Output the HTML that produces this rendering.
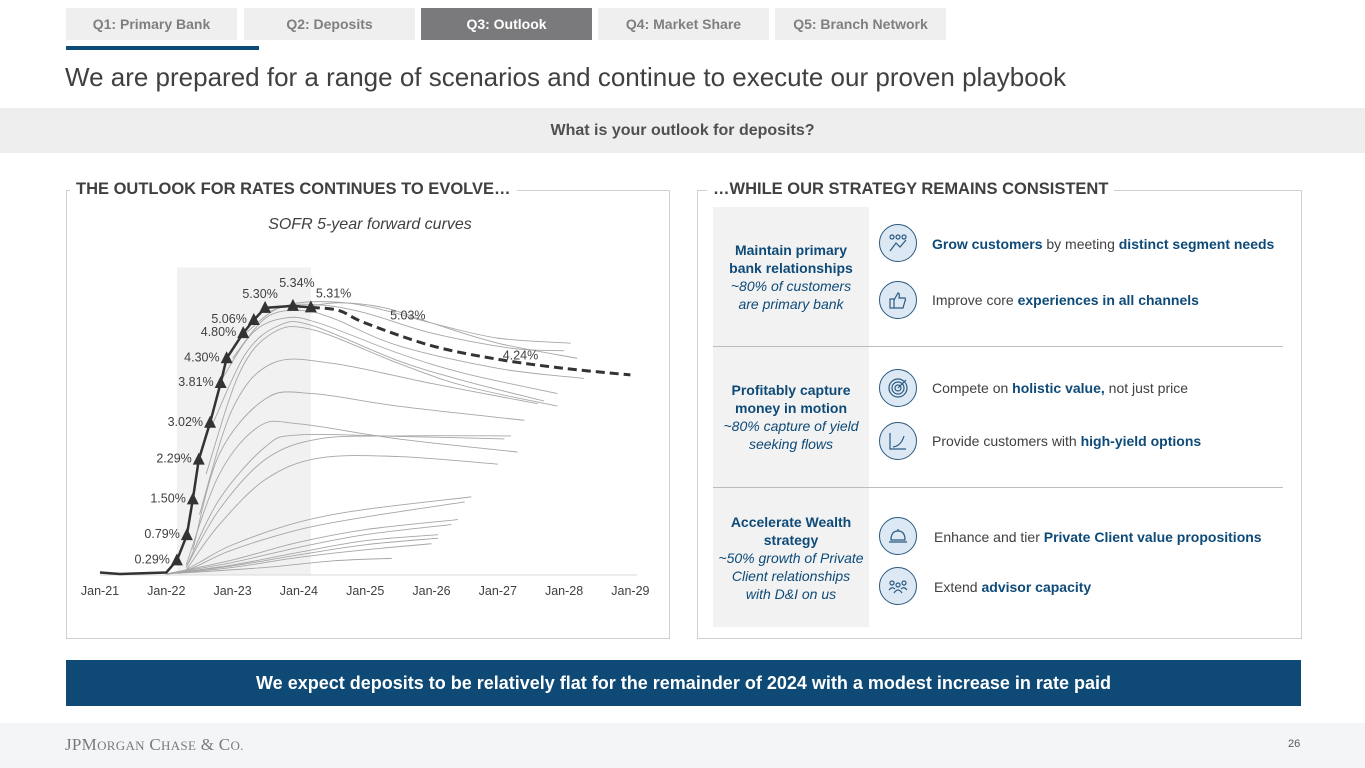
<!DOCTYPE html>
<html><head><meta charset="utf-8">
<style>
*{margin:0;padding:0;box-sizing:border-box}
body{width:1365px;height:768px;position:relative;background:#fff;font-family:"Liberation Sans",Arial,sans-serif;overflow:hidden;color:#404040}
.abs{position:absolute}
.tab{position:absolute;top:8px;height:32px;width:171px;background:#efefef;color:#7f7f7f;font-size:14px;font-weight:bold;text-align:center;line-height:32px}
.tab.on{background:#7a7a7c;color:#fff}
.b{color:#0e4a78;font-weight:bold}
.item{position:absolute;left:932px;font-size:14px;color:#404040;white-space:nowrap}
.icon{position:absolute;left:879px;width:38px;height:38px;border-radius:50%;background:#dce8f3;border:1.5px solid #2b5a80}
.icon svg{position:absolute;left:8px;top:8px}
.lh{position:absolute;left:713px;width:156px;text-align:center;font-size:14px;line-height:18px;white-space:nowrap}
.lh b{color:#0e4a78;display:block}
.lh i{color:#0e4a78;display:block}
</style></head><body>
<div class="tab" style="left:66px">Q1: Primary Bank</div>
<div class="tab" style="left:244px">Q2: Deposits</div>
<div class="tab on" style="left:421px">Q3: Outlook</div>
<div class="tab" style="left:598px">Q4: Market Share</div>
<div class="tab" style="left:775px">Q5: Branch Network</div>
<div class="abs" style="left:66px;top:46px;width:193px;height:4px;background:#0e4a78"></div>
<div class="abs" style="left:65px;top:62px;font-size:26px;color:#404040">We are prepared for a range of scenarios and continue to execute our proven playbook</div>
<div class="abs" style="left:0;top:108px;width:1365px;height:45px;background:#eeeeee;text-align:center;line-height:45px;font-size:16px;font-weight:bold;color:#505050">What is your outlook for deposits?</div>

<div class="abs" style="left:66px;top:190px;width:604px;height:449px;border:1px solid #d0d0d0"></div>
<div class="abs" style="left:70px;top:180px;padding:0 6px;background:#fff;font-size:16.5px;font-weight:bold;color:#404040">THE OUTLOOK FOR RATES CONTINUES TO EVOLVE…</div>
<div class="abs" style="left:697px;top:190px;width:605px;height:449px;border:1px solid #d0d0d0"></div>
<div class="abs" style="left:707px;top:180px;padding:0 6px;background:#fff;font-size:16.5px;font-weight:bold;color:#404040">…WHILE OUR STRATEGY REMAINS CONSISTENT</div>

<svg id="chart" class="abs" style="left:0;top:0" width="700" height="660"></svg>

<div class="abs" style="left:713px;top:207px;width:156px;height:420px;background:#f2f2f2"></div>
<div class="abs" style="left:713px;top:346px;width:570px;height:1px;background:#bdbdbd"></div>
<div class="abs" style="left:713px;top:487px;width:570px;height:1px;background:#bdbdbd"></div>
<div class="lh" style="top:241px"><b>Maintain primary<br>bank relationships</b><i>~80% of customers<br>are primary bank</i></div>
<div class="lh" style="top:381px"><b>Profitably capture<br>money in motion</b><i>~80% capture of yield<br>seeking flows</i></div>
<div class="lh" style="top:513px"><b>Accelerate Wealth<br>strategy</b><i>~50% growth of Private<br>Client relationships<br>with D&amp;I on us</i></div>

<div class="icon" style="top:224px"><svg width="20" height="20"><g fill="none" stroke="#2b5a80" stroke-width="1.2"><circle cx="4" cy="4" r="2"/><circle cx="10" cy="4" r="2"/><circle cx="16" cy="4" r="2"/><path d="M2 18L8 10L12 14L18 7"/></g></svg></div>
<div class="icon" style="top:281px"><svg width="20" height="20"><g fill="none" stroke="#2b5a80" stroke-width="1.2"><rect x="2" y="9" width="4" height="9"/><path d="M6 10L10 3Q12 3 11 8H17Q18 9 17 11L15 18H6"/></g></svg></div>
<div class="icon" style="top:369px"><svg width="20" height="20"><g fill="none" stroke="#2b5a80" stroke-width="1.2"><circle cx="10" cy="10" r="9"/><circle cx="10" cy="10" r="6"/><circle cx="10" cy="10" r="3"/><path d="M10 10L18 2"/></g></svg></div>
<div class="icon" style="top:422px"><svg width="20" height="20"><g fill="none" stroke="#2b5a80" stroke-width="1.2"><path d="M2 2V18H18"/><path d="M5 16Q13 15 16 5"/></g></svg></div>
<div class="icon" style="top:517px"><svg width="20" height="20"><g fill="none" stroke="#2b5a80" stroke-width="1.2"><path d="M3 14Q3 5 10 5Q17 5 17 14Z"/><path d="M1 16H19M10 3V5"/></g></svg></div>
<div class="icon" style="top:567px"><svg width="20" height="20"><g fill="none" stroke="#2b5a80" stroke-width="1.2"><circle cx="4" cy="7" r="2"/><circle cx="10" cy="9" r="2"/><circle cx="16" cy="7" r="2"/><path d="M1 14Q4 10 7 13M6 17Q10 11 14 17M13 13Q16 10 19 14"/></g></svg></div>
<div class="item" style="top:236px"><span class="b">Grow customers</span> by meeting <span class="b">distinct segment needs</span></div>
<div class="item" style="top:292px">Improve core <span class="b">experiences in all channels</span></div>
<div class="item" style="top:380px">Compete on <span class="b">holistic value,</span> not just price</div>
<div class="item" style="top:433px">Provide customers with <span class="b">high-yield options</span></div>
<div class="item" style="top:529px;left:934px">Enhance and tier <span class="b">Private Client value propositions</span></div>
<div class="item" style="top:579px;left:934px">Extend <span class="b">advisor capacity</span></div>

<div class="abs" style="left:66px;top:660px;width:1235px;height:46px;background:#0e4a75;color:#fff;font-size:18px;font-weight:bold;text-align:center;line-height:46px">We expect deposits to be relatively flat for the remainder of 2024 with a modest increase in rate paid</div>
<div class="abs" style="left:0;top:723px;width:1365px;height:45px;background:#f4f5f7"></div>
<div class="abs" style="left:65px;top:735px;font-family:'Liberation Serif',serif;font-size:17px;color:#7a7a7a;letter-spacing:0.3px">JPM<span style="font-size:13px">ORGAN</span> C<span style="font-size:13px">HASE</span> &amp; C<span style="font-size:13px">O.</span></div>
<div class="abs" style="left:1288px;top:738px;font-size:11px;color:#595959">26</div>

<script>
const xTickLabels=["Jan-21","Jan-22","Jan-23","Jan-24","Jan-25","Jan-26","Jan-27","Jan-28","Jan-29"];
const realizedT=[0,0.3,1.0,1.16,1.31,1.40,1.49,1.66,1.82,1.91,2.16,2.32,2.49,2.91,3.18];
const realizedV=[0.05,0.02,0.05,0.29,0.79,1.50,2.29,3.02,3.81,4.30,4.80,5.06,5.30,5.34,5.31];
const realizedMarker=[0,0,0,1,1,1,1,1,1,1,1,1,1,1,1];
const realizedLabels=["","","","0.29%","0.79%","1.50%","2.29%","3.02%","3.81%","4.30%","4.80%","5.06%","5.30%","5.34%","5.31%"];
const currentT=[3.18,3.6,4.0,5.0,6.0,7.0,8.0];
const currentV=[5.31,5.25,5.0,4.55,4.28,4.1,3.97];
const fwdCurves=[
[[1.0,0.02],[2.5,0.15],[3.5,0.28],[4.4,0.33]],
[[1.0,0.02],[2,0.15],[3,0.35],[4,0.5],[5.0,0.62]],
[[1.0,0.02],[2,0.18],[3,0.4],[4,0.6],[5.1,0.73]],
[[1.0,0.02],[2,0.2],[3,0.45],[4,0.68],[5.1,0.8]],
[[1.0,0.02],[2,0.25],[3,0.55],[4,0.8],[5.3,1.0]],
[[1.0,0.02],[2,0.3],[3,0.65],[4,0.9],[5.4,1.1]],
[[1.2,0.03],[1.5,0.2],[2,0.5],[3,0.9],[4,1.15],[5.5,1.45]],
[[1.2,0.03],[1.5,0.25],[2,0.6],[3,1.05],[4,1.3],[5.6,1.55]],
[[1.3,0.1],[1.8,1.0],[2.5,1.9],[3.3,2.32],[4.5,2.35],[6.0,2.2]],
[[1.3,0.15],[1.8,1.3],[2.5,2.3],[3.3,2.7],[4.5,2.76],[6.2,2.76]],
[[1.3,0.15],[1.8,1.5],[2.5,2.55],[3.0,2.78],[4.5,2.75],[6.1,2.7]],
[[1.3,0.2],[1.8,2.0],[2.4,2.95],[3.0,3.0],[4.5,2.7],[6.3,2.44]],
[[1.4,0.5],[1.8,2.4],[2.5,3.5],[3.2,3.6],[4.5,3.35],[6.4,3.07]],
[[1.5,1.2],[2,3.3],[2.6,4.2],[3.5,4.2],[5,3.8],[6.6,3.4]],
[[1.6,2],[2.1,4.0],[2.6,4.8],[3.2,4.87],[4.5,4.2],[5.5,3.75],[6.9,3.35]],
[[1.7,3],[2.2,4.4],[2.7,4.95],[3.2,4.95],[4.5,4.25],[5.5,3.85],[6.7,3.45]],
[[1.8,3.8],[2.3,4.8],[2.8,5.1],[3.3,5.0],[4.5,4.4],[5.5,4.0],[6.9,3.6]],
[[2.0,4.3],[2.5,5.1],[3.0,5.25],[3.5,5.1],[4.5,4.55],[6.0,4.1],[7.3,3.9]],
[[2.2,4.8],[2.7,5.3],[3.3,5.36],[4.0,5.2],[5,4.8],[6.2,4.5],[7.0,4.45]],
[[2.5,5.2],[3.0,5.4],[3.7,5.4],[4.3,5.25],[5,5.0],[6.0,4.7],[7.1,4.6]],
[[3.0,5.3],[3.6,5.4],[4.3,5.3],[5,5.0],[6,4.6],[7.2,4.3]]
];
const calloutLabels=[{t:4.3,v:5.03,text:"5.03%"},{t:6.0,v:4.24,text:"4.24%"}];

const X0=100,XW=66.3,Y0=575,YS=50.4;
const xs=t=>X0+t*XW, ys=v=>Y0-v*YS;
const svg=document.getElementById('chart');
const NS='http://www.w3.org/2000/svg';
function mk(tag,attrs,parent){const e=document.createElementNS(NS,tag);for(const k in attrs)e.setAttribute(k,attrs[k]);(parent||svg).appendChild(e);return e;}
function smooth(pts){let d='M'+pts[0][0]+','+pts[0][1];for(let i=0;i<pts.length-1;i++){const p0=pts[Math.max(0,i-1)],p1=pts[i],p2=pts[i+1],p3=pts[Math.min(pts.length-1,i+2)];const c1x=p1[0]+(p2[0]-p0[0])/6,c1y=p1[1]+(p2[1]-p0[1])/6,c2x=p2[0]-(p3[0]-p1[0])/6,c2y=p2[1]-(p3[1]-p1[1])/6;d+=` C${c1x},${c1y} ${c2x},${c2y} ${p2[0]},${p2[1]}`;}return d;}

const shade=mk('rect',{x:xs(1.16),y:ys(6.1),width:xs(3.18)-xs(1.16),height:ys(0)-ys(6.1),fill:'#f1f1f1'});


const title=mk('text',{x:370,y:229,'text-anchor':'middle','font-size':16,'font-style':'italic',fill:'#404040'});
title.textContent='SOFR 5-year forward curves';


const axis=mk('line',{x1:xs(0),x2:xs(8.1),y1:ys(0),y2:ys(0),stroke:'#d9d9d9','stroke-width':1});


xTickLabels.forEach((l,i)=>{const t=mk('text',{x:xs(i),y:595,'text-anchor':'middle','font-size':12.5,fill:'#404040'});t.textContent=l;

});
fwdCurves.forEach(c=>{const p=mk('path',{d:smooth(c.map(q=>[xs(q[0]),ys(q[1])])),fill:'none',stroke:'#a6a6a6','stroke-width':0.9});

});
const cur=mk('path',{d:smooth(currentT.map((t,i)=>[xs(t),ys(currentV[i])])),fill:'none',stroke:'#333','stroke-width':3,'stroke-dasharray':'9,5'});


const real=mk('polyline',{points:realizedT.map((t,i)=>xs(t)+','+ys(realizedV[i])).join(' '),fill:'none',stroke:'#333','stroke-width':2.5});


realizedT.forEach((t,i)=>{if(!realizedMarker[i])return;const x=xs(t),y=ys(realizedV[i]);
const m=mk('polygon',{points:`${x},${y-7} ${x-6},${y+5} ${x+6},${y+5}`,fill:'#333'});


const lbl=realizedLabels[i];let lx=x-7,ly=y+3,anc='end';
if(i===12){lx=x-5;ly=y-10;anc='middle';}if(i===13){lx=x+4;ly=y-19;anc='middle';}if(i===14){lx=x+5;ly=y-10;anc='start';}
const tx=mk('text',{x:lx,y:ly,'text-anchor':anc,'font-size':12.5,fill:'#404040'});tx.textContent=lbl;

});
calloutLabels.forEach(c=>{const tx=mk('text',{x:xs(c.t)+5,y:ys(c.v)-2,'text-anchor':'start','font-size':12.5,fill:'#404040'});tx.textContent=c.text;

});
</script>
</body></html>
